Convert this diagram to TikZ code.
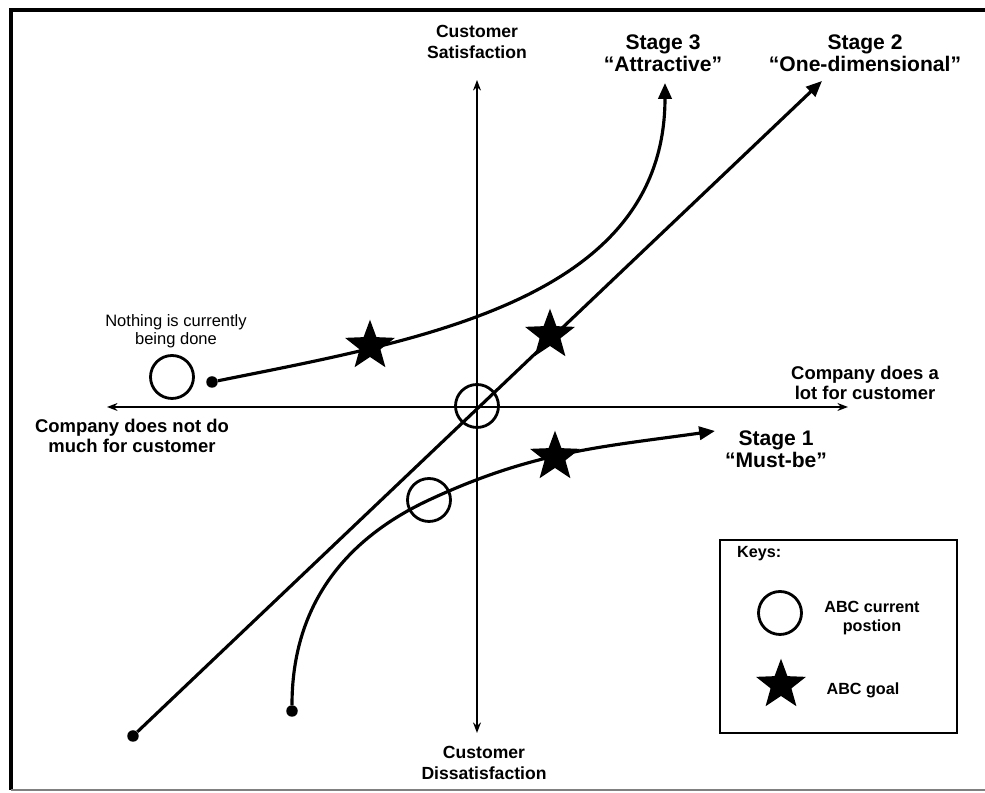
\documentclass[tikz,border=0pt]{standalone}
\usepackage{fontspec}
\setmainfont{Liberation Sans}
\usepackage{tikz}
\usetikzlibrary{arrows.meta}
\usetikzlibrary{shapes.geometric}
\usetikzlibrary{positioning}

\tikzset{
  axis/.style={line width=1.1pt, {Stealth[length=6pt,width=4.5pt]}-{Stealth[length=6pt,width=4.5pt]}},
  curve/.style={line width=1.8pt, -{Triangle[length=9pt,width=7.5pt]}},
  axislabel/.style={align=center, font=\bfseries\fontsize{10}{11.5}\selectfont},
  stagelabel/.style={align=center, font=\bfseries\fontsize{12}{12.5}\selectfont},
  sidelabel/.style={align=center, font=\bfseries\fontsize{10.5}{11.5}\selectfont},
  keylabel/.style={align=center, font=\bfseries\fontsize{9.2}{11}\selectfont}
}

\begin{document}
\begin{tikzpicture}[x=0.02cm,y=0.02cm]
	\useasboundingbox (0,0) rectangle (985,793);
	% frame
	\draw[line width=2pt] (985,783) -- (11,783) -- (11,3);
	\draw[gray, line width=0.8pt] (11,3) -- (985,3);

	% axes
	\coordinate (top) at (477,713);
	\coordinate (bot) at (477,60);
	\coordinate (lft) at (107,386);
	\coordinate (rgt) at (848,386);
	\draw[axis] (bot) -- (top);
	\draw[axis] (lft) -- (rgt);

	\begin{scope}[every node/.style={circle, draw, line width=1.6pt, minimum size=0.86cm, inner sep=0pt}]
		\node (c0) at (477,387) {};
		\node (c1) at (429,293) {};
		\node (c2) at (172,416) {};
		\node (c3) at (780,180) {};
	\end{scope}

	\begin{scope}[every node/.style={circle, fill=black, minimum size=0.23cm, inner sep=0pt}]
		\node (d1) at (292,82) {};
		\node (d2) at (133,57) {};
		\node (d3) at (212,411) {};
	\end{scope}

	\coordinate (t1) at (715,362);
	\coordinate (t2) at (822,712);
	\coordinate (t3) at (665,710);

	% stages
	\draw[curve] (d1) to[out=90, in=205] (c1.center) to[out=25, in=188] (t1);
	\draw[curve] (d2) -- (t2);
	\draw[curve] (d3) .. controls (420,453) and (665,493) .. (t3);

	\begin{scope}[every node/.style={star, star points=5, star point ratio=2.4, fill=black, minimum size=1.05cm, inner sep=0pt}]
		\node (s1) at (555,336) {};
		\node (s2) at (550,458) {};
		\node (s3) at (370,447) {};
		\node (s4) at (781,108) {};
	\end{scope}

	% labels
	\node[axislabel] (sat) at (477,751) {Customer\\Satisfaction};
	\node[axislabel] (dis) at (484,30) {Customer\\Dissatisfaction};
	\node[stagelabel] (st3) at (663,740) {Stage 3\\“Attractive”};
	\node[stagelabel] (st2) at (865,740) {Stage 2\\“One-dimensional”};
	\node[stagelabel] (st1) at (776,344) {Stage 1\\“Must-be”};
	\node[sidelabel] (lot) at (865,410) {Company does a\\lot for customer};
	\node[sidelabel] (much) at (132,357) {Company does not do\\much for customer};
	\node[align=center, font=\fontsize{9.4}{10.3}\selectfont] (none) at (176,462) {Nothing is currently\\being done};

	% keys
	\draw[line width=1.3pt] (720,253) rectangle (957,60);
	\node[keylabel, anchor=west] (keys) at (731,239) {Keys:};
	\node[keylabel] (k1) at (872,175) {ABC current\\postion};
	\node[keylabel] (k2) at (863,103) {ABC goal};
\end{tikzpicture}
\end{document}
